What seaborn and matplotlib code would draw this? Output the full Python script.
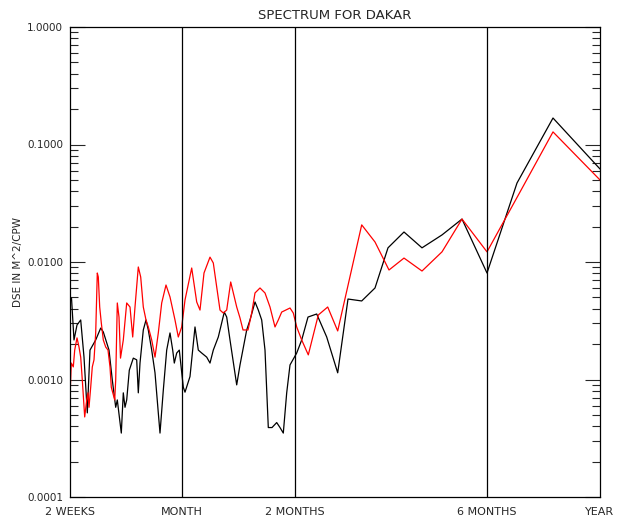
import numpy as np
import pandas as pd
import matplotlib
matplotlib.use("Agg")
import matplotlib.pyplot as plt
import seaborn as sns
from matplotlib.ticker import LogLocator, FixedLocator, FixedFormatter, NullFormatter

# ---- data (x = position along the period axis, 2 WEEKS = 0 ... YEAR = 530) ----
x_black = [0, 1.5, 4, 7, 10.7, 14, 17.3, 20, 25.7, 30.7, 33.3, 39, 42.3, 45.7, 47.3,
           51.3, 53.3, 55, 56.7, 59.3, 63.3, 66.7, 68.3, 70, 73.3, 76, 78.3, 81.7, 85,
           88.3, 90, 93.3, 96.7, 100, 102.7, 104.3, 106.7, 109.3, 113.3, 115, 120, 125,
           128.3, 131.7, 136.7, 140, 143.3, 148.3, 154.3, 156.7, 160, 166.7, 170, 176.7,
           180, 185, 188.3, 191.7, 195, 198.3, 202, 206.7, 210, 213.3, 216.7, 220,
           226.7, 231.7, 238, 246.7, 256.7, 267.7, 278, 291.7, 305, 318, 334, 352, 372,
           392, 417, 447, 483, 530]
y_black = [0.00457, 0.00494, 0.00217, 0.00291, 0.00321, 0.00155, 0.00052, 0.00178,
           0.00217, 0.00274, 0.00254, 0.00178, 0.00099, 0.00058, 0.00067, 0.00035,
           0.00077, 0.00058, 0.00067, 0.00120, 0.00152, 0.00147, 0.00077, 0.00138,
           0.00264, 0.00321, 0.00264, 0.00178, 0.00114, 0.00052, 0.00035, 0.00081,
           0.00178, 0.00249, 0.00178, 0.00138, 0.00168, 0.00178, 0.00086, 0.00078,
           0.00106, 0.00280, 0.00178, 0.00168, 0.00155, 0.00138, 0.00178, 0.00230,
           0.00375, 0.00340, 0.00217, 0.00090, 0.00133, 0.00264, 0.00321, 0.00457,
           0.00390, 0.00321, 0.00178, 0.00039, 0.00039, 0.00043, 0.00039, 0.00035,
           0.00077, 0.00133, 0.00168, 0.00217, 0.00340, 0.00361, 0.00230, 0.00114,
           0.00484, 0.00466, 0.00601, 0.0132, 0.0180, 0.0132, 0.0170, 0.0232, 0.00806,
           0.0470, 0.168, 0.0619]

x_red = [0, 1.3, 3.3, 4.7, 7, 9, 10.7, 12.3, 14.7, 16.7, 18, 19, 20.7, 22.3, 24, 25.7,
         27.3, 28.3, 29.7, 31.3, 33.3, 35.7, 38, 40, 41.3, 44.7, 45.7, 47.3, 49, 50.5,
         53.3, 56.7, 60, 62.7, 65, 68.3, 70.7, 73.3, 76, 78.3, 81.7, 85, 88.3, 91.7, 96,
         100, 105, 108.3, 111.7, 115, 121.7, 126.7, 130, 134, 140, 143.3, 146.7, 150,
         153.3, 156.7, 160.7, 166.7, 170, 173, 178, 181.7, 185, 190, 195, 200, 205,
         208.3, 211.7, 220, 223.3, 226.7, 231.7, 238.3, 248.3, 257.7, 267.7, 291.7,
         305, 319, 334, 352, 372, 392, 417, 450, 483, 530]
y_red = [0.00071, 0.00138, 0.00128, 0.00178, 0.00226, 0.00189, 0.00155, 0.00099, 0.00048,
         0.00067, 0.00077, 0.00058, 0.00086, 0.00128, 0.00147, 0.00249, 0.00806, 0.00745,
         0.00414, 0.00303, 0.00217, 0.00189, 0.00178, 0.00128, 0.00086, 0.00067, 0.00099,
         0.00448, 0.00340, 0.00152, 0.00217, 0.00448, 0.00414, 0.00230, 0.00414, 0.00907,
         0.00745, 0.00414, 0.00321, 0.00280, 0.00217, 0.00155, 0.00249, 0.00448, 0.00637,
         0.00504, 0.00321, 0.00230, 0.00280, 0.00475, 0.00889, 0.00457, 0.00390, 0.00806,
         0.0110, 0.00981, 0.00613, 0.00390, 0.00368, 0.00390, 0.00676, 0.00414, 0.00334,
         0.00264, 0.00264, 0.00368, 0.00545, 0.00601, 0.00545, 0.00414, 0.00280, 0.00321,
         0.00375, 0.00406, 0.00368, 0.00280, 0.00217, 0.00162, 0.00354, 0.00414, 0.00259,
         0.0207, 0.0148, 0.00855, 0.0108, 0.00838, 0.0122, 0.0232, 0.0122, 0.0394, 0.128,
         0.0499]

period_labels = ["2 WEEKS", "MONTH", "2 MONTHS", "6 MONTHS", "YEAR"]
period_pos = [0, 112, 225, 417, 530]
divider_pos = [112, 225, 417]
y_ticks = [1e-4, 1e-3, 1e-2, 1e-1, 1.0]
y_ticklabels = ["0.0001", "0.0010", "0.0100", "0.1000", "1.0000"]

df = pd.concat([
    pd.DataFrame({"x": x_black, "y": y_black, "series": "black"}),
    pd.DataFrame({"x": x_red, "y": y_red, "series": "red"}),
], ignore_index=True)

sns.set_style("white")
plt.rcParams["font.family"] = ["DejaVu Sans"]

fig = plt.figure(figsize=(6.18, 5.19), dpi=100)
ax = fig.add_axes([70 / 618, 1 - 497 / 519, 530 / 618, 470 / 519])

sns.lineplot(data=df, x="x", y="y", hue="series",
             palette={"black": "black", "red": "#ff0000"},
             estimator=None, sort=False, legend=False, linewidth=0.9, ax=ax)

for p in divider_pos:
    ax.axvline(p, color="black", linewidth=0.9)

ax.set_yscale("log")
ax.set_ylim(1e-4, 1.0)
ax.set_xlim(0, 530)

ax.xaxis.set_major_locator(FixedLocator(period_pos))
ax.xaxis.set_major_formatter(FixedFormatter(period_labels))
ax.tick_params(axis="x", length=0, pad=7, labelsize=8)

ax.yaxis.set_major_locator(FixedLocator(y_ticks))
ax.yaxis.set_major_formatter(FixedFormatter(y_ticklabels))
ax.yaxis.set_minor_locator(LogLocator(base=10, subs=np.arange(2, 10), numticks=20))
ax.yaxis.set_minor_formatter(NullFormatter())
ax.tick_params(axis="y", which="major", direction="in", length=11, width=0.8,
               left=True, right=True, labelsize=7.5, pad=5)
ax.tick_params(axis="y", which="minor", direction="in", length=5.5, width=0.8,
               left=True, right=True)

for s in ax.spines.values():
    s.set_color("black")
    s.set_linewidth(0.9)

ax.set_xlabel("")
ax.set_ylabel("DSE IN M^2/CPW", fontsize=7.5, labelpad=3)
ax.set_title("SPECTRUM FOR DAKAR", fontsize=9.5, pad=6)

fig.savefig("out.png", dpi=100, facecolor="white")
